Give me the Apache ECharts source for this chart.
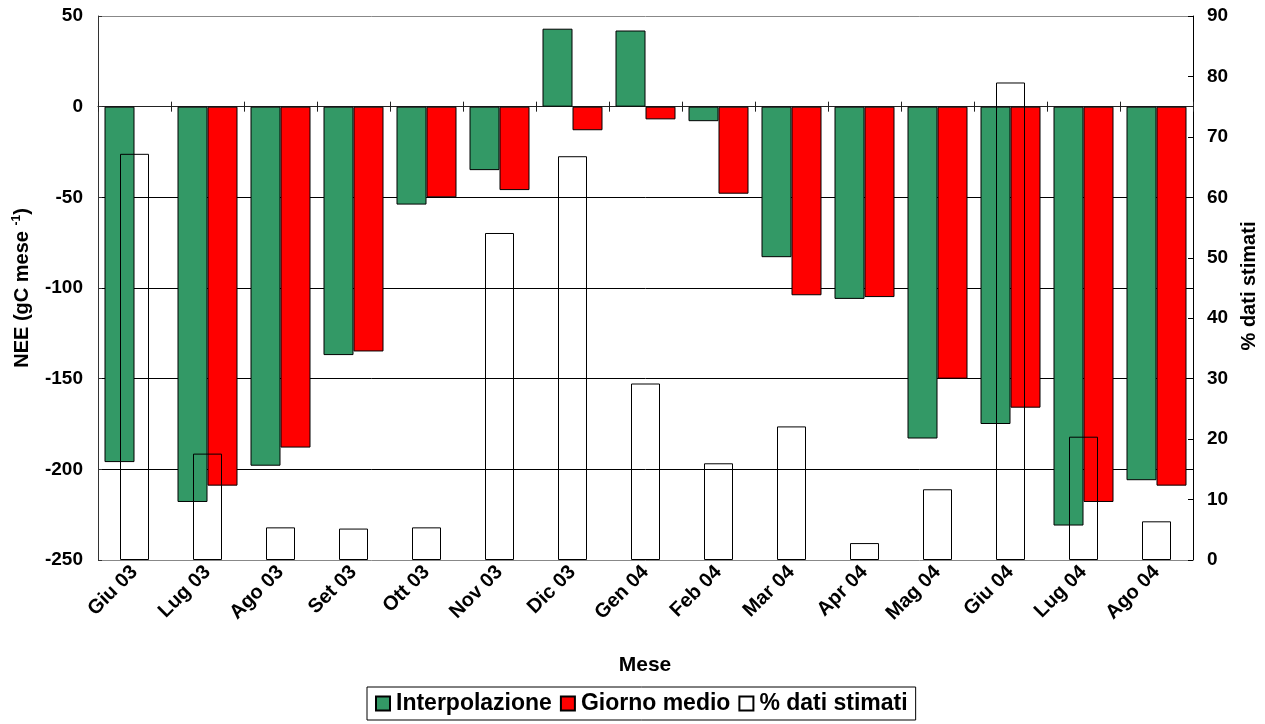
<!DOCTYPE html>
<html><head><meta charset="utf-8">
<script src="https://cdn.jsdelivr.net/npm/echarts@6/dist/echarts.min.js"></script>
<style>html,body{margin:0;padding:0;background:#fff}#c{width:1265px;height:724px}</style>
</head><body><div id="c"></div>
<script>
const months = ['Giu 03','Lug 03','Ago 03','Set 03','Ott 03','Nov 03','Dic 03','Gen 04','Feb 04','Mar 04','Apr 04','Mag 04','Giu 04','Lug 04','Ago 04'];
const interpolazione = [-196, -218, -198, -137, -54, -35, 43, 42, -8, -83, -106, -183, -175, -231, -206];
const giornoMedio = [null, -209, -188, -135, -50, -46, -13, -7, -48, -104, -105, -150, -166, -218, -209];
const datiStimati = [67.2, 17.6, 5.4, 5.2, 5.4, 54.1, 66.8, 29.2, 16.0, 22.1, 2.8, 11.7, 79.0, 20.4, 6.4];
const seriesNames = ['Interpolazione', 'Giorno medio', '% dati stimati'];
const FONT = "'Liberation Sans', Arial, sans-serif";

const chart = echarts.init(document.getElementById('c'), null, {renderer: 'canvas'});
chart.setOption({
  animation: false,
  backgroundColor: '#fff',
  textStyle: {fontFamily: FONT},
  grid: {left: 98, right: 72, top: 16, bottom: 164, containLabel: false},
  legend: {
    data: seriesNames,
    left: 367, top: 687,
    padding: [5, 8],
    itemGap: 8,
    itemWidth: 14, itemHeight: 14,
    icon: 'rect',
    borderColor: '#000', borderWidth: 1,
    textStyle: {fontFamily: FONT, fontWeight: 'bold', fontSize: 23, color: '#000', padding: [0, 0, 0, 1]}
  },
  xAxis: [
    {
      type: 'category', data: months, position: 'bottom',
      axisLine: {show: false, onZero: false},
      axisTick: {show: false},
      axisLabel: {rotate: 45, fontFamily: FONT, fontWeight: 'bold', fontSize: 20, color: '#000', margin: 9, interval: 0}
    },
    {
      type: 'category', data: months, position: 'bottom',
      axisLine: {show: true, onZero: true, onZeroAxisIndex: 0, lineStyle: {color: '#222', width: 1}},
      axisTick: {show: true, inside: false, length: 5, lineStyle: {color: '#222'}},
      axisLabel: {show: false}
    },
    {
      type: 'category', data: months, position: 'bottom',
      axisLine: {show: false, onZero: true, onZeroAxisIndex: 0},
      axisTick: {show: true, inside: true, length: 5, lineStyle: {color: '#222'}},
      axisLabel: {show: false}
    }
  ],
  yAxis: [
    {
      type: 'value', min: -250, max: 50, interval: 50, position: 'left',
      axisLine: {show: true, lineStyle: {color: '#333', width: 1}},
      axisTick: {show: true, inside: true, length: 4, lineStyle: {color: '#333'}},
      axisLabel: {fontFamily: FONT, fontWeight: 'bold', fontSize: 19, color: '#000', margin: 15},
      splitLine: {show: true, lineStyle: {color: ['#888', '#000', '#000', '#000', '#000', '#000', '#888'], width: 1}}
    },
    {
      type: 'value', min: 0, max: 90, interval: 10, position: 'right',
      axisLine: {show: true, lineStyle: {color: '#000', width: 1}},
      axisTick: {show: true, inside: true, length: 5, lineStyle: {color: '#000'}},
      axisLabel: {fontFamily: FONT, fontWeight: 'bold', fontSize: 19, color: '#000', margin: 14},
      splitLine: {show: false}
    }
  ],
  series: [
    {
      name: seriesNames[0], type: 'bar', xAxisIndex: 0, yAxisIndex: 0,
      data: interpolazione, barWidth: 30, barGap: '0%',
      itemStyle: {color: '#339966', borderColor: '#000', borderWidth: 1}
    },
    {
      name: seriesNames[1], type: 'bar', xAxisIndex: 0, yAxisIndex: 0,
      data: giornoMedio, barWidth: 30, barGap: '0%',
      itemStyle: {color: '#ff0000', borderColor: '#000', borderWidth: 1}
    },
    {
      name: seriesNames[2], type: 'bar', xAxisIndex: 1, yAxisIndex: 1,
      data: datiStimati, barWidth: 29, z: 5,
      itemStyle: {color: 'rgba(255,255,255,0)', borderColor: '#000', borderWidth: 1}
    }
  ],
  graphic: [
    {
      type: 'text', x: 22, y: 288, rotation: Math.PI / 2,
      style: {
        text: '{a|NEE (gC mese }{s|-1}{a|)}',
        align: 'center', verticalAlign: 'middle',
        rich: {
          a: {fontFamily: FONT, fontWeight: 'bold', fontSize: 20, fill: '#000', lineHeight: 22},
          s: {fontFamily: FONT, fontWeight: 'bold', fontSize: 12, fill: '#000', lineHeight: 22, verticalAlign: 'top', padding: [0, 0, 8, 0]}
        }
      }
    },
    {
      type: 'text', x: 1249, y: 286, rotation: Math.PI / 2,
      style: {text: '% dati stimati', align: 'center', verticalAlign: 'middle', fontFamily: FONT, fontWeight: 'bold', fontSize: 20, fill: '#000'}
    },
    {
      type: 'text', x: 645, y: 665,
      style: {text: 'Mese', align: 'center', verticalAlign: 'middle', fontFamily: FONT, fontWeight: 'bold', fontSize: 21, fill: '#000'}
    }
  ]
});
</script>
</body></html>
